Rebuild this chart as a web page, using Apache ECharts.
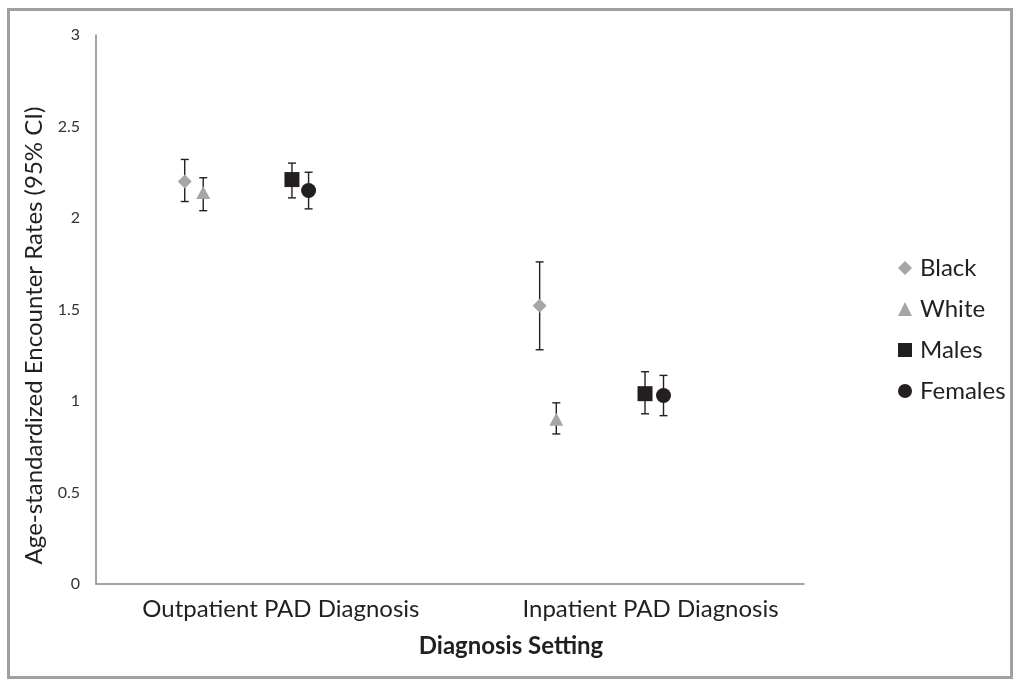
<!DOCTYPE html>
<html>
<head>
<meta charset="utf-8">
<script src="https://cdn.jsdelivr.net/npm/echarts@6/dist/echarts.min.js"></script>
<style>
html,body{margin:0;padding:0;background:#fff;}
#chart{width:1017px;height:681px;}
</style>
</head>
<body>
<div id="chart"></div>
<script>
// ---- data ----
const categories = ['Outpatient PAD Diagnosis', 'Inpatient PAD Diagnosis'];
const categoryTicks = [1, 3];
const seriesNames = ['Black', 'White', 'Males', 'Females'];

const blackX = [0.48, 2.40];
const blackY = [2.20, 1.52];
const blackLow = [2.09, 1.28];
const blackHigh = [2.32, 1.76];

const whiteX = [0.58, 2.49];
const whiteY = [2.14, 0.90];
const whiteLow = [2.04, 0.82];
const whiteHigh = [2.22, 0.99];

const malesX = [1.06, 2.97];
const malesY = [2.21, 1.04];
const malesLow = [2.11, 0.93];
const malesHigh = [2.30, 1.16];

const femalesX = [1.15, 3.07];
const femalesY = [2.15, 1.03];
const femalesLow = [2.05, 0.92];
const femalesHigh = [2.25, 1.14];

const yTicks = [0, 0.5, 1, 1.5, 2, 2.5, 3];
// ---------------

const FONT = 'Lato, "Open Sans", sans-serif';
const groups = [
  {name: seriesNames[0], x: blackX, y: blackY, lo: blackLow, hi: blackHigh, symbol: 'diamond', size: 14, color: '#a6a6a6'},
  {name: seriesNames[1], x: whiteX, y: whiteY, lo: whiteLow, hi: whiteHigh, symbol: 'triangle', size: [14, 13], color: '#a6a6a6'},
  {name: seriesNames[2], x: malesX, y: malesY, lo: malesLow, hi: malesHigh, symbol: 'rect', size: 15, color: '#231f20'},
  {name: seriesNames[3], x: femalesX, y: femalesY, lo: femalesLow, hi: femalesHigh, symbol: 'circle', size: 15, color: '#231f20'}
];

const series = [];
groups.forEach(g => {
  series.push({
    name: g.name + ' CI',
    type: 'custom',
    z: 1,
    silent: true,
    data: g.x.map((x, i) => [x, g.lo[i], g.hi[i]]),
    encode: {x: 0, y: [1, 2]},
    renderItem: function (params, api) {
      const x = api.value(0);
      const top = api.coord([x, api.value(2)]);
      const bot = api.coord([x, api.value(1)]);
      const half = 4;
      const st = {stroke: '#231f20', lineWidth: 1.4};
      return {
        type: 'group',
        children: [
          {type: 'line', shape: {x1: top[0], y1: top[1], x2: bot[0], y2: bot[1]}, style: st},
          {type: 'line', shape: {x1: top[0] - half, y1: top[1], x2: top[0] + half, y2: top[1]}, style: st},
          {type: 'line', shape: {x1: bot[0] - half, y1: bot[1], x2: bot[0] + half, y2: bot[1]}, style: st}
        ]
      };
    }
  });
  series.push({
    name: g.name,
    type: 'scatter',
    z: 3,
    symbol: g.symbol,
    symbolSize: g.size,
    itemStyle: {color: g.color, opacity: 1},
    data: g.x.map((x, i) => [x, g.y[i]])
  });
});

const chart = echarts.init(document.getElementById('chart'), null, {renderer: 'canvas'});
chart.setOption({
  animation: false,
  backgroundColor: '#ffffff',
  textStyle: {fontFamily: FONT},
  graphic: [{
    type: 'rect',
    shape: {x: 8.5, y: 9.5, width: 1003, height: 668},
    style: {fill: 'none', stroke: '#a0a0a0', lineWidth: 3},
    silent: true
  }],
  title: {
    text: 'Diagnosis Setting',
    left: 511,
    top: 634,
    padding: 0,
    textAlign: 'center',
    textStyle: {fontFamily: FONT, fontSize: 24, fontWeight: 'bold', color: '#231f20'}
  },
  legend: {
    orient: 'vertical',
    left: 898,
    top: 256,
    itemWidth: 14,
    itemHeight: 14,
    itemGap: 17,
    padding: 0,
    data: groups.map(g => ({name: g.name, icon: g.symbol, itemStyle: {color: g.color}})),
    textStyle: {fontFamily: FONT, fontSize: 24, color: '#231f20', padding: [0, 0, 0, 3]}
  },
  grid: {left: 96, top: 35, right: 213, bottom: 97, containLabel: false},
  xAxis: {
    type: 'value',
    min: 0,
    max: 3.83,
    interval: 1,
    splitLine: {show: false},
    axisTick: {show: false},
    axisLine: {show: true, lineStyle: {color: '#868686', width: 1.5}},
    axisLabel: {
      show: true,
      showMinLabel: true,
      showMaxLabel: false,
      margin: 13,
      fontFamily: FONT,
      fontSize: 24,
      color: '#231f20',
      formatter: function (v) {
        const idx = categoryTicks.indexOf(Math.round(v * 100) / 100);
        return idx >= 0 ? categories[idx] : '';
      }
    }
  },
  yAxis: {
    type: 'value',
    min: yTicks[0],
    max: yTicks[yTicks.length - 1],
    interval: yTicks[1] - yTicks[0],
    splitLine: {show: false},
    axisTick: {show: false},
    axisLine: {show: true, lineStyle: {color: '#868686', width: 1.5}},
    axisLabel: {margin: 16, fontFamily: FONT, fontSize: 16, color: '#333333'},
    name: 'Age-standardized Encounter Rates (95% CI)',
    nameLocation: 'middle',
    nameGap: 42,
    nameTextStyle: {fontFamily: FONT, fontSize: 24, color: '#231f20', padding: [0, 52, 0, 0]}
  },
  series: series
});
</script>
</body>
</html>
